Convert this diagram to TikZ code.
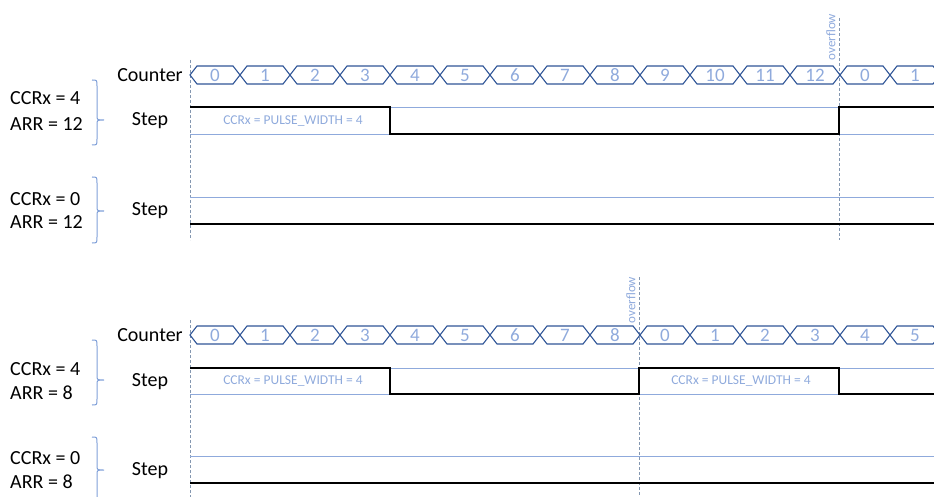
\documentclass[tikz,border=0pt]{standalone}
\usepackage{fontspec}
\setmainfont{Carlito}
\definecolor{hexc}{HTML}{2F5597}
\definecolor{numc}{HTML}{8FAADC}
\definecolor{guidec}{HTML}{8FAADC}
\definecolor{bracec}{HTML}{7F9FD8}
\definecolor{vdashc}{HTML}{8497B0}
\begin{document}
\begin{tikzpicture}[x=1pt,y=-1pt,
  hexshape/.style={draw=hexc,line width=1.1pt,line join=miter},
  numtext/.style={text=numc,font=\fontsize{19}{20}\selectfont,inner sep=0pt},
  lbl/.style={font=\fontsize{20}{21}\selectfont,inner sep=0pt},
  pulsetext/.style={text=numc,font=\fontsize{13.5}{14}\selectfont,inner sep=0pt},
  ovftext/.style={text=numc,font=\fontsize{13}{14}\selectfont,inner sep=0pt,rotate=90},
  guide/.style={draw=guidec,line width=0.9pt},
  sig/.style={draw=black,line width=2.2pt,line join=miter},
  vline/.style={draw=vdashc,line width=0.9pt,dash pattern=on 3pt off 2pt},
  bracestyle/.style={draw=bracec,line width=1pt}]
\useasboundingbox (0,0) rectangle (934,497);

% vertical reference lines
\draw[vline] (190,60) -- (190,240);
\draw[vline] (190,320) -- (190,497);
\draw[vline] (839,18) -- (839,240);
\draw[vline] (639,277) -- (639,497);
\node[ovftext] (ovfA) at (831,37) {overflow};
\node[ovftext] (ovfB) at (631,300) {overflow};

% counters
\foreach \v [count=\i from 0] in {0,1,2,3,4,5,6,7,8,9,10,11,12,0,1} {
  \pgfmathsetmacro\xa{190+50*\i}
  \draw[hexshape] (\xa,75) -- (\xa+7,66) -- (\xa+43,66) -- (\xa+50,75) -- (\xa+43,84) -- (\xa+7,84) -- cycle;
  \node[numtext] (ca\i) at (\xa+25,75.5) {\v};
}
\foreach \v [count=\i from 0] in {0,1,2,3,4,5,6,7,8,0,1,2,3,4,5} {
  \pgfmathsetmacro\xa{190+50*\i}
  \draw[hexshape] (\xa,335) -- (\xa+7,326) -- (\xa+43,326) -- (\xa+50,335) -- (\xa+43,344) -- (\xa+7,344) -- cycle;
  \node[numtext] (cb\i) at (\xa+25,335.5) {\v};
}

% guide lines
\draw[guide] (190,107) -- (934,107);
\draw[guide] (190,134) -- (934,134);
\draw[guide] (190,197) -- (934,197);
\draw[guide] (190,368) -- (934,368);
\draw[guide] (190,394) -- (934,394);
\draw[guide] (190,456) -- (934,456);

% signals
\draw[sig] (190,107) -- (390,107) -- (390,134) -- (839,134) -- (839,107) -- (936,107);
\draw[sig] (190,224) -- (936,224);
\draw[sig] (190,368) -- (390,368) -- (390,394) -- (639,394) -- (639,368) -- (839,368) -- (839,394) -- (936,394);
\draw[sig] (190,483) -- (936,483);

\node[pulsetext] (pw1) at (293,121) {CCRx = PULSE\_WIDTH = 4};
\node[pulsetext] (pw2) at (293,381) {CCRx = PULSE\_WIDTH = 4};
\node[pulsetext] (pw3) at (741,381) {CCRx = PULSE\_WIDTH = 4};

% row labels
\node[lbl] (cntA) at (150,75) {Counter};
\node[lbl] (cntB) at (150,335) {Counter};
\node[lbl] (stA) at (150,121) {Step};
\node[lbl] (stB) at (150,211) {Step};
\node[lbl] (stC) at (150,382) {Step};
\node[lbl] (stD) at (150,471) {Step};

% parameter labels
\node[lbl,anchor=west] (pa1) at (10,98) {CCRx = 4};
\node[lbl,anchor=west] (pa2) at (10,124) {ARR = 12};
\node[lbl,anchor=west] (pb1) at (10,199) {CCRx = 0};
\node[lbl,anchor=west] (pb2) at (10,222) {ARR = 12};
\node[lbl,anchor=west] (pc1) at (10,369) {CCRx = 4};
\node[lbl,anchor=west] (pc2) at (10,393) {ARR = 8};
\node[lbl,anchor=west] (pd1) at (10,458) {CCRx = 0};
\node[lbl,anchor=west] (pd2) at (10,482) {ARR = 8};

% braces
\foreach \t/\m/\b in {80/120/145, 177/211/243, 340/380/405, 437/470/505} {
  \draw[bracestyle] (92,\t) .. controls (97,\t) .. (97,\t+6) -- (97,\m-5)
    .. controls (97,\m) .. (104,\m) .. controls (97,\m) .. (97,\m+5)
    -- (97,\b-6) .. controls (97,\b) .. (92,\b);
}
\end{tikzpicture}
\end{document}
